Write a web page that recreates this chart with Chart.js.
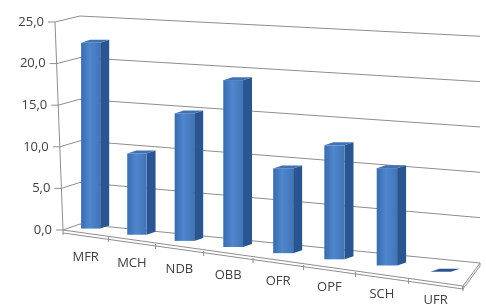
<!DOCTYPE html>
<html>
<head>
<meta charset="utf-8">
<script src="https://cdn.jsdelivr.net/npm/chart.js@4.4.0/dist/chart.umd.min.js"></script>
<style>
  html, body { margin: 0; padding: 0; background: #fff; }
  #chart { display: block; }
</style>
</head>
<body>
<canvas id="chart" width="486" height="304"></canvas>
<script>
const categories = ['MFR', 'MCH', 'NDB', 'OBB', 'OFR', 'OPF', 'SCH', 'UFR'];
const values = [22.2, 9.6, 14.9, 19.3, 9.7, 12.9, 10.9, 0.0];
const yTickValues = [0, 5, 10, 15, 20, 25];
const yTickLabels = ['0,0', '5,0', '10,0', '15,0', '20,0', '25,0'];

// rough perspective of the old Excel 3D column look
const view = {
  floorDrop: 56,   // front edge of the floor goes down to the right
  backDx: 17,
  backDy: -6,
  backDrop: 39,    // back edge of the floor
  grow: 0.09,      // right side is a bit closer to the eye
  barDx: 9,
  barDy: -3,
  barShift: 5,
  barFloor: -4.5,
  barDrop: 49.2,
  labelGap: 23.9,
  axisLean: 8
};

const colors = {
  side: '#2a5590',
  top: '#4072b4',
  grid: '#8d8d8d',
  floor: '#ffffff',
  text: '#404040'
};

function warp(u) {
  return 0.9 * u + 0.1 * u * u;
}

function line(ctx, x1, y1, x2, y2) {
  ctx.beginPath();
  ctx.moveTo(x1, y1);
  ctx.lineTo(x2, y2);
  ctx.stroke();
}

function poly(ctx, pts, fill) {
  ctx.beginPath();
  ctx.moveTo(pts[0][0], pts[0][1]);
  for (let i = 1; i < pts.length; i++) ctx.lineTo(pts[i][0], pts[i][1]);
  ctx.closePath();
  ctx.fillStyle = fill;
  ctx.fill();
}

const fake3d = {
  id: 'fake3d',
  beforeDatasetsDraw(chart) {
    const ctx = chart.ctx;
    const a = chart.chartArea;
    const L = a.left, R = a.right, B = a.bottom;
    const W = R - L;
    const fullH = B - a.top;
    const yScale = chart.scales.y;
    const px = u => L + W * warp(u);

    ctx.save();
    ctx.lineWidth = 1;
    ctx.strokeStyle = colors.grid;

    // floor with a thin slab
    const fl = [L, B], bl = [L + view.backDx, B + view.backDy];
    const br = [R + view.backDx, B + view.backDy + view.backDrop], fr = [R, B + view.floorDrop];
    poly(ctx, [fl, bl, br, fr], colors.floor);
    ctx.beginPath();
    ctx.moveTo(fl[0], fl[1]);
    ctx.lineTo(fr[0], fr[1]);
    ctx.lineTo(br[0], br[1]);
    ctx.stroke();
    line(ctx, fl[0], fl[1] + 3, fr[0], fr[1] + 3);
    line(ctx, fr[0], fr[1], fr[0], fr[1] + 3);
    line(ctx, br[0], br[1], br[0], br[1] + 3);
    line(ctx, br[0], br[1] + 3, fr[0], fr[1] + 3);

    // walls: gridlines on left and back wall, axis with ticks and labels
    ctx.font = '13px "Open Sans"';
    ctx.fillStyle = colors.text;
    ctx.textAlign = 'right';
    ctx.textBaseline = 'middle';
    yTickValues.forEach((v, i) => {
      const y = yScale.getPixelForValue(v);
      const h = B - y;
      const ax = L - view.axisLean * h / fullH;
      const backL = [L + view.backDx, B + view.backDy - h];
      const backR = [R + view.backDx, B + view.backDy + view.backDrop - h * (1 + view.grow)];
      line(ctx, ax, y, backL[0], backL[1]);
      line(ctx, backL[0], backL[1], backR[0], backR[1]);
      line(ctx, ax - 7, y, ax, y);
      ctx.fillText(yTickLabels[i], ax - 11, y);
    });
    line(ctx, L, B, L - view.axisLean, a.top);

    // category ticks on the front edge
    for (let i = 0; i <= categories.length; i++) {
      const u = i / categories.length;
      const x = px(u), y = B + view.floorDrop * u;
      line(ctx, x, y, x, y + 5);
    }

    // bars
    const meta = chart.getDatasetMeta(0);
    ctx.textAlign = 'center';
    meta.data.forEach((el, i) => {
      const u = (el.x - L) / W;
      const k = 1 + view.grow * u;
      const cx = px(u) + view.barShift;
      const w = el.width * k;
      const h = (el.base - el.y) * k;
      const x0 = cx - w / 2, x1 = cx + w / 2;
      const yb = B + view.barFloor + view.barDrop * u;
      const yt = yb - h;
      const dx = view.barDx, dy = view.barDy;

      if (h > 0.5) {
        poly(ctx, [[x1, yt], [x1 + dx, yt + dy], [x1 + dx, yb + dy], [x1, yb]], colors.side);
        const g = ctx.createLinearGradient(x0, 0, x1, 0);
        g.addColorStop(0, '#3a6cae');
        g.addColorStop(0.45, '#4f86cc');
        g.addColorStop(1, '#4175b9');
        ctx.fillStyle = g;
        ctx.fillRect(x0, yt, w, h);
      }
      poly(ctx, [[x0, yt], [x1, yt], [x1 + dx, yt + dy], [x0 + dx, yt + dy]], h > 0.5 ? colors.top : colors.side);

      // category label under the bar
      ctx.fillStyle = colors.text;
      ctx.fillText(categories[i], px(u), B + view.labelGap + view.barDrop * u);
    });

    ctx.restore();
    return false;
  }
};

new Chart(document.getElementById('chart'), {
  type: 'bar',
  data: {
    labels: categories,
    datasets: [{
      data: values,
      backgroundColor: '#4a7ebb',
      barPercentage: 0.95,
      categoryPercentage: 0.4
    }]
  },
  options: {
    responsive: false,
    animation: false,
    layout: { padding: { left: 63, right: 23, top: 22, bottom: 74 } },
    plugins: {
      legend: { display: false },
      tooltip: { enabled: false }
    },
    scales: {
      x: { display: false },
      y: { display: false, min: 0, max: 25 }
    }
  },
  plugins: [fake3d]
});
</script>
</body>
</html>
